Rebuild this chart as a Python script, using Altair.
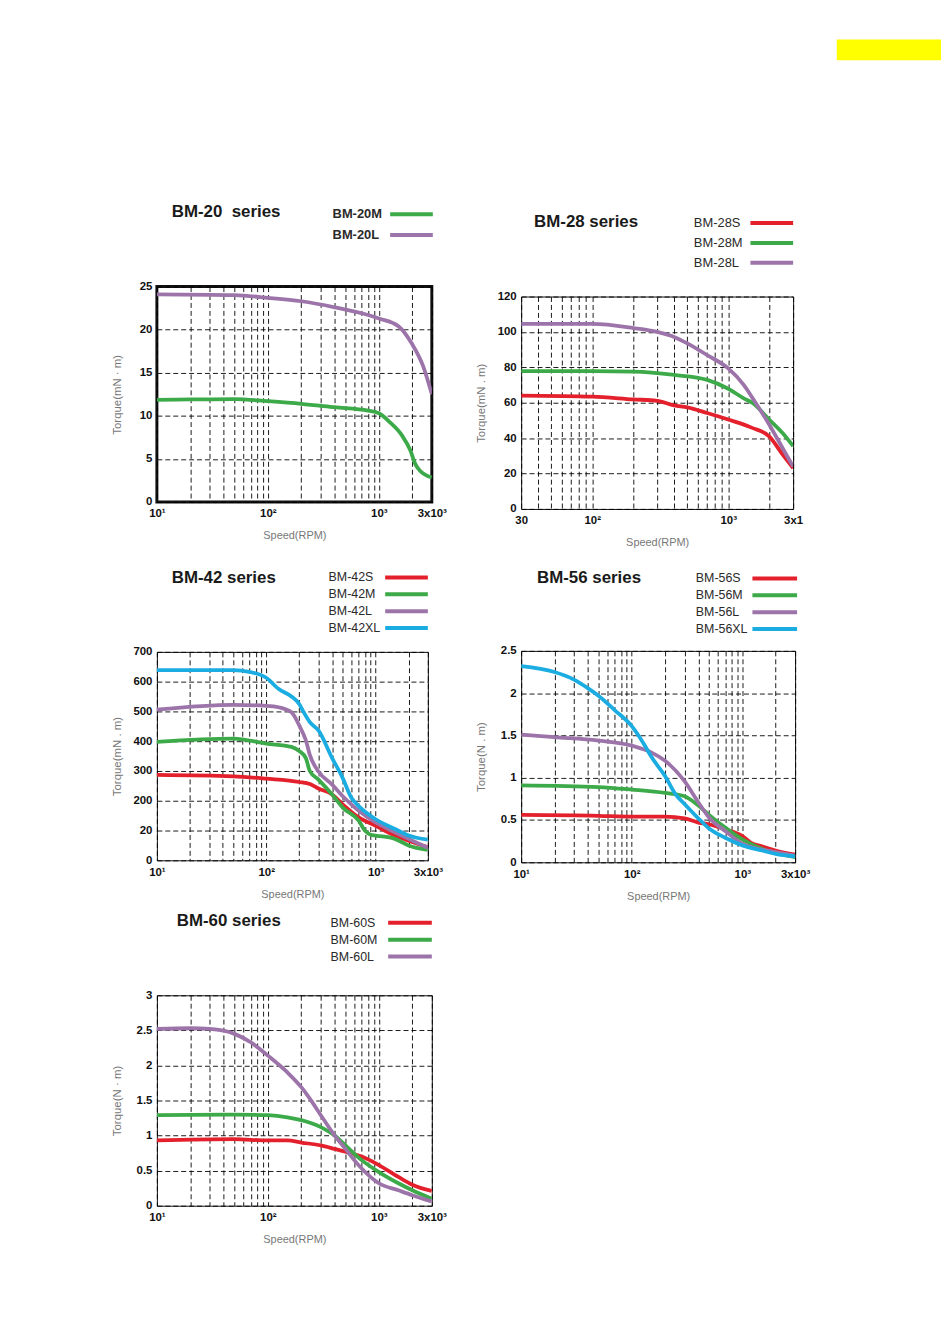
import altair as alt
import pandas as pd

FONT = "Liberation Sans"
RED, GREEN, PURPLE, CYAN = "#e3202b", "#3daa4a", "#9d74aa", "#1badE2"

# ---------------- BM-20 ----------------
BM20_SERIES = ["BM-20M", "BM-20L"]
BM20M_SPEED = [10, 20, 50, 100, 200, 400, 800, 1000, 1270, 1620, 1920, 2130, 2360, 3000]
BM20M_TORQUE = [11.85, 11.9, 11.95, 11.7, 11.4, 11.0, 10.6, 10.3, 9.2, 7.7, 6.0, 4.4, 3.6, 2.85]
BM20L_SPEED = [10, 50, 100, 200, 400, 800, 1000, 1500, 2000, 2500, 3000]
BM20L_TORQUE = [24.1, 24.0, 23.7, 23.3, 22.6, 21.7, 21.3, 20.4, 18.3, 15.8, 12.5]

# ---------------- BM-28 ----------------
BM28_SERIES = ["BM-28S", "BM-28M", "BM-28L"]
BM28S_SPEED = [30, 100, 200, 300, 400, 500, 700, 1000, 1500, 2000, 2500, 3000]
BM28S_TORQUE = [64, 63.4, 61.9, 61.1, 58.5, 57.4, 54.2, 50.5, 45.8, 41, 31, 23]
BM28M_SPEED = [30, 100, 200, 400, 700, 1000, 1300, 1500, 2000, 2500, 3000]
BM28M_TORQUE = [77.9, 77.9, 77.6, 75.7, 72.9, 67.9, 62.5, 60, 50.5, 43, 35.5]
BM28L_SPEED = [30, 100, 200, 300, 400, 500, 700, 1000, 1300, 1500, 2000, 2500, 3000]
BM28L_TORQUE = [104.5, 104.5, 102.2, 100, 97.2, 93.5, 86.9, 79.4, 70.1, 63, 47.7, 34.6, 24]

# ---------------- BM-42 ----------------
BM42_SERIES = ["BM-42S", "BM-42M", "BM-42L", "BM-42XL"]
BM42S_SPEED = [10, 50, 100, 200, 250, 300, 400, 500, 700, 1000, 1500, 2000, 3000]
BM42S_TORQUE = [287, 282, 274, 263, 256, 241, 221, 188, 144, 116, 83, 66, 44]
BM42M_SPEED = [10, 50, 100, 170, 200, 230, 250, 300, 400, 500, 700, 800, 900, 1000, 1500, 2000, 3000]
BM42M_TORQUE = [398, 409, 392, 381, 367, 343, 300, 271, 221, 177, 133, 99, 86, 83, 72, 50, 35]
BM42L_SPEED = [10, 50, 100, 130, 170, 200, 230, 250, 300, 400, 500, 700, 1000, 1500, 2000, 3000]
BM42L_TORQUE = [506, 522, 519, 514, 497, 453, 403, 354, 298, 254, 215, 166, 127, 94, 72, 42]
BM42XL_SPEED = [10, 50, 70, 100, 130, 170, 200, 220, 250, 300, 400, 500, 600, 700, 1000, 1500, 2000, 3000]
BM42XL_TORQUE = [639, 639, 633, 613, 575, 550, 525, 497, 464, 436, 343, 276, 210, 182, 138, 105, 83, 69]

# ---------------- BM-56 ----------------
BM56_SERIES = ["BM-56S", "BM-56M", "BM-56L", "BM-56XL"]
BM56S_SPEED = [10, 50, 100, 200, 300, 400, 500, 700, 1000, 1200, 1500, 2000, 3000]
BM56S_TORQUE = [0.56, 0.55, 0.54, 0.54, 0.52, 0.47, 0.45, 0.39, 0.31, 0.23, 0.19, 0.14, 0.09]
BM56M_SPEED = [10, 50, 100, 200, 300, 400, 500, 700, 1000, 1500, 2000, 3000]
BM56M_TORQUE = [0.91, 0.89, 0.86, 0.82, 0.78, 0.67, 0.56, 0.41, 0.27, 0.16, 0.11, 0.06]
BM56L_SPEED = [10, 20, 50, 100, 150, 200, 300, 400, 500, 700, 1000, 1500, 2000, 3000]
BM56L_TORQUE = [1.51, 1.48, 1.44, 1.38, 1.30, 1.20, 0.96, 0.71, 0.53, 0.37, 0.22, 0.15, 0.12, 0.08]
BM56XL_SPEED = [10, 20, 30, 40, 50, 70, 100, 130, 150, 200, 250, 300, 400, 500, 700, 1000, 1500, 2000, 3000]
BM56XL_TORQUE = [2.32, 2.25, 2.16, 2.06, 1.97, 1.80, 1.61, 1.39, 1.25, 1.02, 0.80, 0.69, 0.52, 0.40, 0.29, 0.20, 0.14, 0.10, 0.07]

# ---------------- BM-60 ----------------
BM60_SERIES = ["BM-60S", "BM-60M", "BM-60L"]
BM60S_SPEED = [10, 50, 100, 150, 200, 300, 400, 500, 700, 1000, 1500, 2000, 3000]
BM60S_TORQUE = [0.93, 0.95, 0.93, 0.93, 0.90, 0.86, 0.81, 0.77, 0.70, 0.58, 0.41, 0.30, 0.21]
BM60M_SPEED = [10, 50, 100, 150, 200, 300, 400, 500, 700, 1000, 1500, 2000, 3000]
BM60M_TORQUE = [1.29, 1.30, 1.29, 1.26, 1.22, 1.12, 1.00, 0.86, 0.65, 0.48, 0.32, 0.22, 0.10]
BM60L_SPEED = [10, 20, 30, 50, 70, 100, 150, 200, 250, 300, 400, 500, 600, 700, 1000, 1500, 2000, 3000]
BM60L_TORQUE = [2.52, 2.53, 2.52, 2.45, 2.33, 2.14, 1.90, 1.69, 1.48, 1.29, 1.00, 0.81, 0.65, 0.53, 0.32, 0.22, 0.15, 0.06]

# ---------------- axis ticks / labels ----------------
GRID_10 = [10, 20, 30, 40, 50, 60, 70, 80, 90, 100, 200, 300, 400, 500, 600, 700, 800, 900, 1000, 2000, 3000]
GRID_30 = [30, 40, 50, 60, 70, 80, 90, 100, 200, 300, 400, 500, 600, 700, 800, 900, 1000, 2000, 3000]
XLAB_10 = [(10, "10¹"), (100, "10²"), (1000, "10³"), (3000, "3x10³")]
XLAB_30 = [(30, "30"), (100, "10²"), (1000, "10³"), (3000, "3x1")]

Y20 = [0, 5, 10, 15, 20, 25]
Y28 = [0, 20, 40, 60, 80, 100, 120]
Y42 = [0, 100, 200, 300, 400, 500, 600, 700]
Y42_LABELS = ["0", "20", "200", "300", "400", "500", "600", "700"]
Y56 = [0, 0.5, 1, 1.5, 2, 2.5]
Y60 = [0, 0.5, 1, 1.5, 2, 2.5, 3]

# one colour mapping for every series name (shared across all panels)
ALL_NAMES = BM20_SERIES + BM28_SERIES + BM42_SERIES + BM56_SERIES + BM60_SERIES
ALL_COLORS = ([GREEN, PURPLE] + [RED, GREEN, PURPLE] + [RED, GREEN, PURPLE, CYAN]
              + [RED, GREEN, PURPLE, CYAN] + [RED, GREEN, PURPLE])
COLOR_OF = dict(zip(ALL_NAMES, ALL_COLORS))


def expr(pairs):
    return "".join(f"datum.value == {v} ? '{l}' : " for v, l in pairs) + "''"


ONE = pd.DataFrame({"k": [0]})


def make_panel(title, names, speeds, torques, xmin, xgrid, xlabels,
               ymax, yticks, ylabels, ytitle, w, h, title_xy, leg_x, leg_y,
               leg_step, line_x, leg_size=12.5, leg_bold=False, frame=1.0,
               extra=None):
    rows = []
    for n, sp, tq in zip(names, speeds, torques):
        for s, t in zip(sp, tq):
            rows.append({"series": n, "speed": s, "torque": t})
    df = pd.DataFrame(rows)

    lines = alt.Chart(df).mark_line(strokeWidth=3.8, interpolate="monotone", clip=True).encode(
        x=alt.X("speed:Q",
                scale=alt.Scale(type="log", domain=[xmin, 3000], nice=False),
                axis=alt.Axis(values=xgrid, labelExpr=expr(xlabels), title="Speed(RPM)")),
        y=alt.Y("torque:Q",
                scale=alt.Scale(domain=[0, ymax], nice=False, zero=True),
                axis=alt.Axis(values=yticks, labelExpr=expr(list(zip(yticks, ylabels))),
                              title=ytitle)),
        color=alt.Color("series:N",
                        scale=alt.Scale(domain=ALL_NAMES, range=ALL_COLORS),
                        legend=None),
    )
    layers = [lines]
    layers.append(
        alt.Chart(ONE).mark_text(align="left", baseline="middle", font=FONT, fontSize=17,
                                 fontWeight="bold", color="#1a1a1a").encode(
            x=alt.value(title_xy[0]), y=alt.value(title_xy[1]), text=alt.value(title))
    )
    for i, n in enumerate(names):
        yy = leg_y + i * leg_step
        layers.append(
            alt.Chart(ONE).mark_text(align="left", baseline="middle", font=FONT,
                                     fontSize=leg_size,
                                     fontWeight="bold" if leg_bold else "normal",
                                     color="#2a2a2a").encode(
                x=alt.value(leg_x), y=alt.value(yy), text=alt.value(n))
        )
        layers.append(
            alt.Chart(ONE).mark_rule(strokeWidth=4, color=COLOR_OF[n]).encode(
                x=alt.value(line_x[0]), x2=alt.value(line_x[1]), y=alt.value(yy))
        )
    if extra is not None:
        layers.extend(extra)
    return alt.layer(*layers).properties(
        width=w, height=h,
        view=alt.ViewBackground(stroke="#111111", strokeWidth=frame))


def spacer(h):
    return alt.Chart(ONE).mark_point(opacity=0, size=1).encode(
        x=alt.value(0.5), y=alt.value(h / 2)
    ).properties(width=1, height=h, view=alt.ViewBackground(strokeOpacity=0))


p20 = make_panel("BM-20\u00a0 series", BM20_SERIES,
                 [BM20M_SPEED, BM20L_SPEED], [BM20M_TORQUE, BM20L_TORQUE],
                 10, GRID_10, XLAB_10, 25, Y20, [str(v) for v in Y20], "Torque(mN · m)",
                 277, 217, (15, -75), 177, -73, 21, (235, 278), leg_size=13, leg_bold=True,
                 frame=3)

yellow = alt.Chart(ONE).mark_rect(color="#ffff00").encode(
    x=alt.value(318), x2=alt.value(423), y=alt.value(-259), y2=alt.value(-238))

p28 = make_panel("BM-28 series", BM28_SERIES,
                 [BM28S_SPEED, BM28M_SPEED, BM28L_SPEED],
                 [BM28S_TORQUE, BM28M_TORQUE, BM28L_TORQUE],
                 30, GRID_30, XLAB_30, 120, Y28, [str(v) for v in Y28], "Torque(mN . m)",
                 274, 214, (13, -75), 174, -74, 20, (231, 274), leg_size=13,
                 extra=[yellow])

p42 = make_panel("BM-42 series", BM42_SERIES,
                 [BM42S_SPEED, BM42M_SPEED, BM42L_SPEED, BM42XL_SPEED],
                 [BM42S_TORQUE, BM42M_TORQUE, BM42L_TORQUE, BM42XL_TORQUE],
                 10, GRID_10, XLAB_10, 700, Y42, Y42_LABELS, "Torque(mN . m)",
                 273, 210, (15, -74), 173, -75, 17, (230, 273))

p56 = make_panel("BM-56 series", BM56_SERIES,
                 [BM56S_SPEED, BM56M_SPEED, BM56L_SPEED, BM56XL_SPEED],
                 [BM56S_TORQUE, BM56M_TORQUE, BM56L_TORQUE, BM56XL_TORQUE],
                 10, GRID_10, XLAB_10, 2.5, Y56, [str(v) for v in Y56], "Torque(N . m)",
                 276, 213, (16, -73), 176, -73, 17, (233, 278))

p60 = make_panel("BM-60 series", BM60_SERIES,
                 [BM60S_SPEED, BM60M_SPEED, BM60L_SPEED],
                 [BM60S_TORQUE, BM60M_TORQUE, BM60L_TORQUE],
                 10, GRID_10, XLAB_10, 3, Y60, [str(v) for v in Y60], "Torque(N · m)",
                 277, 212, (20, -75), 175, -73, 17, (233, 277))

left = alt.vconcat(spacer(249), p20, spacer(151), p42, spacer(136), p60,
                   spacing=0, bounds="flush")
right = alt.vconcat(spacer(259), p28, spacer(143), p56, spacing=0, bounds="flush")

chart = alt.hconcat(left, right, spacing=26, bounds="full").properties(
    padding={"left": 102, "top": 26, "right": 0, "bottom": 10},
    background="white",
).configure_view(
    stroke="#111111", strokeWidth=1
).configure_axis(
    grid=True, gridDash=[5, 3], gridColor="#000000", gridOpacity=1, gridWidth=0.9,
    domain=False, ticks=False,
    labelFont=FONT, labelFontWeight="bold", labelFontSize=11.5, labelColor="#111111",
    titleFont=FONT, titleFontWeight="normal", titleFontSize=11, titleColor="#777777",
    labelOverlap=False,
).configure_axisX(
    labelPadding=6, labelFlush=False, titleY=34, titleBaseline="middle",
).configure_axisY(
    labelPadding=5, titleX=-40, titleAngle=270, titleBaseline="middle",
    titleFontSize=11.5,
)

chart.save("out.html", embed_options={"renderer": "svg", "actions": False})
